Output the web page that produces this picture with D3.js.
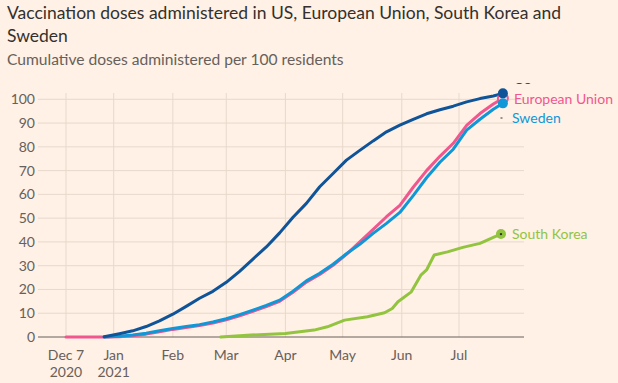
<!DOCTYPE html>
<html><head><meta charset="utf-8">
<script src="https://cdn.jsdelivr.net/npm/d3@7"></script>
<style>body{margin:0;background:#fff1e5} svg{display:block}</style>
</head><body><svg id="c" width="618" height="383"></svg>
<script>
const usData=[["2020-12-27",0.1],["2021-01-04",1.4],["2021-01-11",2.6],["2021-01-18",4.4],["2021-01-25",6.8],["2021-02-01",9.6],["2021-02-08",12.9],["2021-02-15",16.3],["2021-02-22",19.2],["2021-03-01",23],["2021-03-08",27.6],["2021-03-15",32.8],["2021-03-22",37.9],["2021-03-29",43.8],["2021-04-05",50.4],["2021-04-12",56.2],["2021-04-19",63.2],["2021-04-26",68.8],["2021-05-03",74.4],["2021-05-10",78.5],["2021-05-17",82.5],["2021-05-24",86.3],["2021-05-31",89.1],["2021-06-07",91.6],["2021-06-14",93.9],["2021-06-21",95.6],["2021-06-28",97.1],["2021-07-05",98.9],["2021-07-12",100.3],["2021-07-19",101.4],["2021-07-24",102.5]];
const euData=[["2020-12-07",0],["2020-12-27",0],["2021-01-04",0.1],["2021-01-11",0.5],["2021-01-18",1.2],["2021-01-25",2.2],["2021-02-01",3.2],["2021-02-08",4.0],["2021-02-15",4.8],["2021-02-22",5.9],["2021-03-01",7.2],["2021-03-08",8.9],["2021-03-15",10.8],["2021-03-22",12.8],["2021-03-29",15.0],["2021-04-05",18.8],["2021-04-12",23.1],["2021-04-19",26.3],["2021-04-26",30.2],["2021-05-03",34.8],["2021-05-10",40.0],["2021-05-17",45.3],["2021-05-24",50.6],["2021-05-31",55.4],["2021-06-07",63.0],["2021-06-14",70.0],["2021-06-21",76.0],["2021-06-28",81.5],["2021-07-05",89.0],["2021-07-12",94.0],["2021-07-19",98.0],["2021-07-24",100.4]];
const swedenData=[["2020-12-27",0],["2021-01-04",0.3],["2021-01-11",0.8],["2021-01-18",1.6],["2021-01-25",2.6],["2021-02-01",3.6],["2021-02-08",4.4],["2021-02-15",5.2],["2021-02-22",6.3],["2021-03-01",7.7],["2021-03-08",9.4],["2021-03-15",11.3],["2021-03-22",13.3],["2021-03-29",15.5],["2021-04-05",19.3],["2021-04-12",23.6],["2021-04-19",26.8],["2021-04-26",30.6],["2021-05-03",35.0],["2021-05-10",39.0],["2021-05-17",43.6],["2021-05-24",47.8],["2021-05-31",52.4],["2021-06-07",59.5],["2021-06-14",67.0],["2021-06-21",73.5],["2021-06-28",79.0],["2021-07-05",87.0],["2021-07-12",91.6],["2021-07-19",95.8],["2021-07-24",98.3]];
const koreaData=[["2021-02-26",0],["2021-03-14",0.8],["2021-04-01",1.5],["2021-04-16",2.9],["2021-04-23",4.3],["2021-05-02",7.1],["2021-05-14",8.5],["2021-05-23",10.2],["2021-05-27",12.0],["2021-05-30",14.8],["2021-06-06",19.0],["2021-06-11",26.0],["2021-06-14",28.2],["2021-06-18",34.5],["2021-06-25",35.8],["2021-07-03",37.7],["2021-07-12",39.4],["2021-07-19",41.9],["2021-07-23",43.3]];
const yTicks=[0,10,20,30,40,50,60,70,80,90,100];
const xTickDates=["2020-12-07","2021-01-01","2021-02-01","2021-03-01","2021-04-01","2021-05-01","2021-06-01","2021-07-01"];
const xTickLabels=["Dec 7","Jan","Feb","Mar","Apr","May","Jun","Jul"];
const xTickYears=["2020","2021","","","","","",""];
const seriesNames=["South Korea","European Union","Sweden","US"];
const seriesColors=["#92c43f","#f2568e","#0f97d8","#0f5499"];

const FONT="Lato, 'Open Sans', sans-serif";
const svg=d3.select("#c");
svg.append("rect").attr("width",618).attr("height",383).attr("fill","#fff1e5");
const parse=d3.utcParse("%Y-%m-%d");
const x=d3.scaleUtc().domain([parse("2020-12-07"),parse("2021-07-01")]).range([66,459]);
const y=d3.scaleLinear().domain([0,100]).range([337,99.3]);
const L=38,R=524,T=93;

// titles
svg.append("text").attr("x",7).attr("y",18.5).attr("font-family",FONT).attr("font-size",17.5).attr("fill","#33302e")
  .text("Vaccination doses administered in US, European Union, South Korea and");
svg.append("text").attr("x",7).attr("y",41.5).attr("font-family",FONT).attr("font-size",17.5).attr("fill","#33302e").text("Sweden");
svg.append("text").attr("x",7).attr("y",65).attr("font-family",FONT).attr("font-size",15.6).attr("fill","#66605c")
  .text("Cumulative doses administered per 100 residents");

// grid
const grid=svg.append("g");
grid.selectAll("line.h").data(yTicks.filter(d=>d>0)).join("line").attr("x1",L).attr("x2",R)
  .attr("y1",d=>y(d)).attr("y2",d=>y(d)).attr("stroke","#e7d9cc").attr("stroke-width",1);
grid.selectAll("line.v").data(xTickDates).join("line").attr("x1",d=>x(parse(d))).attr("x2",d=>x(parse(d)))
  .attr("y1",T).attr("y2",y(0)).attr("stroke","#e7d9cc").attr("stroke-width",1);
svg.append("line").attr("x1",L).attr("x2",R).attr("y1",y(0)).attr("y2",y(0)).attr("stroke","#66605c").attr("stroke-width",1);

// y labels
svg.append("g").selectAll("text").data(yTicks).join("text").attr("x",35).attr("y",d=>y(d)).attr("dy","0.35em")
  .attr("text-anchor","end").attr("font-family",FONT).attr("font-size",14).attr("fill","#66605c").text(d=>d);
// x labels
const xl=svg.append("g").selectAll("text").data(xTickDates).join("text").attr("text-anchor","middle")
  .attr("font-family",FONT).attr("font-size",14).attr("fill","#66605c");
xl.append("tspan").attr("x",d=>x(parse(d))).attr("y",360).text((d,i)=>xTickLabels[i]);
xl.append("tspan").attr("x",d=>x(parse(d))).attr("y",377).text((d,i)=>xTickYears[i]);

// lines
const line=d3.line().x(d=>x(parse(d[0]))).y(d=>y(d[1]));
const all=[koreaData,euData,swedenData,usData];
all.forEach((data,i)=>{
  svg.append("path").datum(data).attr("d",line).attr("fill","none").attr("stroke",seriesColors[i])
    .attr("stroke-width",3).attr("stroke-linejoin","round").attr("stroke-linecap","round");
});
// end markers
const last=a=>a[a.length-1];
const markerOrder=[0,1,3,2];
markerOrder.forEach(i=>{
  const p=last(all[i]);
  svg.append("circle").attr("cx",x(parse(p[0]))).attr("cy",y(p[1])).attr("r",5)
    .attr("fill",i===1?"#fbd5e0":seriesColors[i]).attr("stroke",seriesColors[i]).attr("stroke-width",i===1?2:0);
});
{const p=last(koreaData);svg.append("circle").attr("cx",x(parse(p[0]))).attr("cy",y(p[1])).attr("r",1.2).attr("fill","#33302e");}

// labels
const clip=svg.append("clipPath").attr("id","cl");
clip.append("rect").attr("x",0).attr("y",83).attr("width",618).attr("height",300);
svg.append("text").attr("clip-path","url(#cl)").attr("x",514).attr("y",84).attr("font-family",FONT).attr("font-size",14)
  .attr("fill",seriesColors[3]).text(seriesNames[3]);
svg.append("text").attr("x",514).attr("y",99).attr("dy","0.35em").attr("font-family",FONT).attr("font-size",14)
  .attr("fill",seriesColors[1]).text(seriesNames[1]);
svg.append("text").attr("x",512).attr("y",118).attr("dy","0.35em").attr("font-family",FONT).attr("font-size",14)
  .attr("fill",seriesColors[2]).text(seriesNames[2]);
svg.append("line").attr("x1",500.5).attr("x2",502.5).attr("y1",118).attr("y2",118).attr("stroke","#33302e").attr("stroke-width",1);
svg.append("text").attr("x",512).attr("y",y(last(koreaData)[1])).attr("dy","0.35em").attr("font-family",FONT).attr("font-size",14)
  .attr("fill",seriesColors[0]).text(seriesNames[0]);
</script></body></html>
